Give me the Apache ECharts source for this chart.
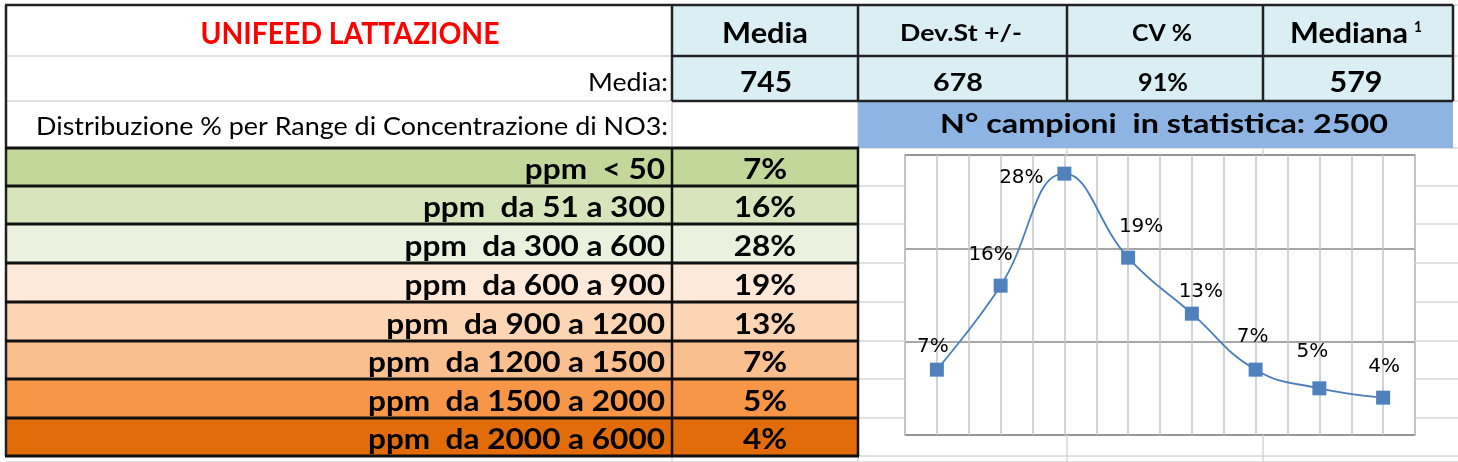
<!DOCTYPE html>
<html>
<head>
<meta charset="utf-8">
<script src="https://cdn.jsdelivr.net/npm/echarts@6/dist/echarts.min.js"></script>
<style>
    html, body { margin: 0; padding: 0; background: #fff; }
    #main { width: 1458px; height: 462px; }
</style>
</head>
<body>
<div id="main"></div>
<script>
// dati
var title = 'UNIFEED LATTAZIONE';
var headLabels = ['Media', 'Dev.St +/-', 'CV %', 'Mediana'];
var headValues = ['745', '678', '91%', '579'];
var rowLabel = 'Media:';
var distLabel = 'Distribuzione % per Range di Concentrazione di NO3:';
var sampleLabel = 'N° campioni  in statistica: ';
var sampleCount = 2500;
var ranges = ['ppm  < 50', 'ppm  da 51 a 300', 'ppm  da 300 a 600', 'ppm  da 600 a 900',
    'ppm  da 900 a 1200', 'ppm  da 1200 a 1500', 'ppm  da 1500 a 2000', 'ppm  da 2000 a 6000'];
var percents = [7, 16, 28, 19, 13, 7, 5, 4];

// colori righe (stile)
var rowColors = ['#C4D79B', '#D8E4BC', '#EBF1DE', '#FDE9D9', '#FCD5B4', '#FABF8F', '#F79646', '#E26B0A'];
// spostamento etichette del grafico
var labelOffsets = [[-4, -23], [-10, -31], [-43, 4], [13, -31], [9, -22], [-3, -33], [-7, -37], [1, -31]];

var FONT = 'Lato, "Open Sans", sans-serif';
var colX = [6, 672, 858, 1067, 1263, 1453];
var rowY = [5, 56, 101, 148, 186, 224, 263, 302, 341, 379, 418, 456];
// riquadro del grafico
var box = { x: 905, y: 155, w: 510, h: 280 };

var myChart;
var ctx = document.createElement('canvas').getContext('2d');

window.onload = function () {
    myChart = echarts.init(document.getElementById('main'));
    drawSheet();
};

function measure(str, font) {
    ctx.font = font;
    return ctx.measureText(str).width;
}

function rect(x, y, w, h, fill, z) {
    return { type: 'rect', z: z || 0, shape: { x: x, y: y, width: w, height: h }, style: { fill: fill } };
}

function line(x1, y1, x2, y2, color, width, z) {
    return {
        type: 'line', z: z || 1,
        shape: { x1: x1, y1: y1, x2: x2, y2: y2 },
        style: { stroke: color, lineWidth: width }
    };
}

// testo allargato come nel foglio excel (sx = scala orizzontale)
function text(x, y, str, font, align, sx, fill) {
    return {
        type: 'text', z: 5, x: x, y: y, scaleX: sx || 1,
        style: { text: str, font: font, fill: fill || '#000', align: align || 'center', verticalAlign: 'middle' }
    };
}

// testo che occupa una larghezza data
function fitText(x, y, str, font, width, align, fill) {
    return text(x, y, str, font, align, width / measure(str, font), fill);
}

function drawSheet() {
    var g = [];
    var i;

    // griglia di excel (non dentro il grafico)
    var hy = rowY.concat([462]);
    for (i = 0; i < hy.length; i++) {
        if (hy[i] > box.y && hy[i] < box.y + box.h) {
            g.push(line(6, hy[i], box.x, hy[i], '#d6d6d6', 1.5, 0));
            g.push(line(box.x + box.w, hy[i], 1458, hy[i], '#d6d6d6', 1.5, 0));
        } else {
            g.push(line(6, hy[i], 1458, hy[i], '#d6d6d6', 1.5, 0));
        }
    }
    for (i = 1; i < colX.length - 1; i++) {
        if (colX[i] > box.x) {
            g.push(line(colX[i], 5, colX[i], box.y, '#d6d6d6', 1.5, 0));
            g.push(line(colX[i], box.y + box.h, colX[i], 462, '#d6d6d6', 1.5, 0));
        } else {
            g.push(line(colX[i], 5, colX[i], 462, '#d6d6d6', 1.5, 0));
        }
    }

    // intestazione
    g.push(rect(672, 5, 781, 96, '#DAEEF3', 1));
    g.push(rect(858, 101, 595, 47, '#8DB4E2', 1));
    g.push(line(5, 5, 1453, 5, '#222', 2.5, 3));
    g.push(line(672, 56, 1453, 56, '#222', 2.5, 3));
    g.push(line(672, 101, 1453, 101, '#222', 2.5, 3));
    for (i = 1; i < colX.length; i++) {
        g.push(line(colX[i], 5, colX[i], 101, '#222', 2.5, 3));
    }
    g.push(line(6, 5, 6, 456, '#222', 2.5, 3));

    g.push(fitText(350, 34, title, 'bold 30px ' + FONT, 299, 'center', '#FF0000'));

    var headFonts = ['bold 29px ', 'bold 23px ', 'bold 23px ', 'bold 29px '];
    var headX = [765, 961, 1162, 1349];
    var headW = [86, 122, 60, 118];
    var valFonts = ['bold 28px ', 'bold 25px ', 'bold 25px ', 'bold 28px '];
    var valX = [766, 958, 1163, 1356];
    var valW = [52, 50, 50, 53];
    for (i = 0; i < headLabels.length; i++) {
        g.push(fitText(headX[i], 34, headLabels[i], headFonts[i] + FONT, headW[i]));
        g.push(fitText(valX[i], 83, headValues[i], valFonts[i] + FONT, valW[i]));
    }
    g.push(fitText(1418, 27, '1', 'bold 16px ' + FONT, 8));
    g.push(fitText(668, 83, rowLabel, '25px ' + FONT, 80, 'right'));
    g.push(fitText(668, 127, distLabel, '25px ' + FONT, 632, 'right'));
    g.push(fitText(1164, 124.5, sampleLabel + sampleCount, 'bold 26px ' + FONT, 448));

    // tabella distribuzione
    var rowFont = 'bold 29px ' + FONT;
    var rowSx = 297 / measure(ranges[ranges.length - 1], rowFont);
    for (i = 0; i < ranges.length; i++) {
        var y0 = rowY[i + 3], y1 = rowY[i + 4];
        g.push(rect(6, y0, 852, y1 - y0, rowColors[i], 1));
        g.push(text(665, y1 - 16, ranges[i], rowFont, 'right', rowSx));
        g.push(text(765, y1 - 16, percents[i] + '%', rowFont, 'center', rowSx));
    }
    for (i = 3; i < rowY.length; i++) {
        g.push(line(5, rowY[i], 859, rowY[i], '#111', 3, 3));
    }
    g.push(line(672, 148, 672, 456, '#111', 2.5, 3));
    g.push(line(858, 148, 858, 456, '#111', 2.5, 3));

    var option = {
        animation: false,
        backgroundColor: '#fff',
        graphic: g,
        grid: {
            left: box.x, top: box.y, width: box.w, height: box.h,
            show: true, borderColor: '#a6a6a6', borderWidth: 1.5
        },
        xAxis: {
            type: 'value', min: -0.5, max: 7.5, interval: 0.5,
            axisLine: { show: false }, axisTick: { show: false }, axisLabel: { show: false },
            splitLine: { show: true, lineStyle: { color: '#c4c4c4', width: 1.5 } }
        },
        yAxis: {
            type: 'value', min: 0, max: 30, interval: 10,
            axisLine: { show: false }, axisTick: { show: false }, axisLabel: { show: false },
            splitLine: { show: true, lineStyle: { color: '#8a8a8a', width: 1.5 } }
        },
        series: [{
            type: 'line',
            z: 20,
            smooth: 0.45,
            symbol: 'rect',
            symbolSize: 14,
            lineStyle: { color: '#4A7EBB', width: 1.8 },
            itemStyle: { color: '#4F81BD' },
            label: {
                show: true, position: 'inside',
                fontFamily: '"DejaVu Sans", sans-serif', fontSize: 20, color: '#000',
                formatter: function (p) { return p.value[1] + '%'; }
            },
            data: percents.map(function (v, k) {
                return { value: [k, v], label: { offset: labelOffsets[k] } };
            })
        }]
    };

    myChart.setOption(option);
}
</script>
</body>
</html>
